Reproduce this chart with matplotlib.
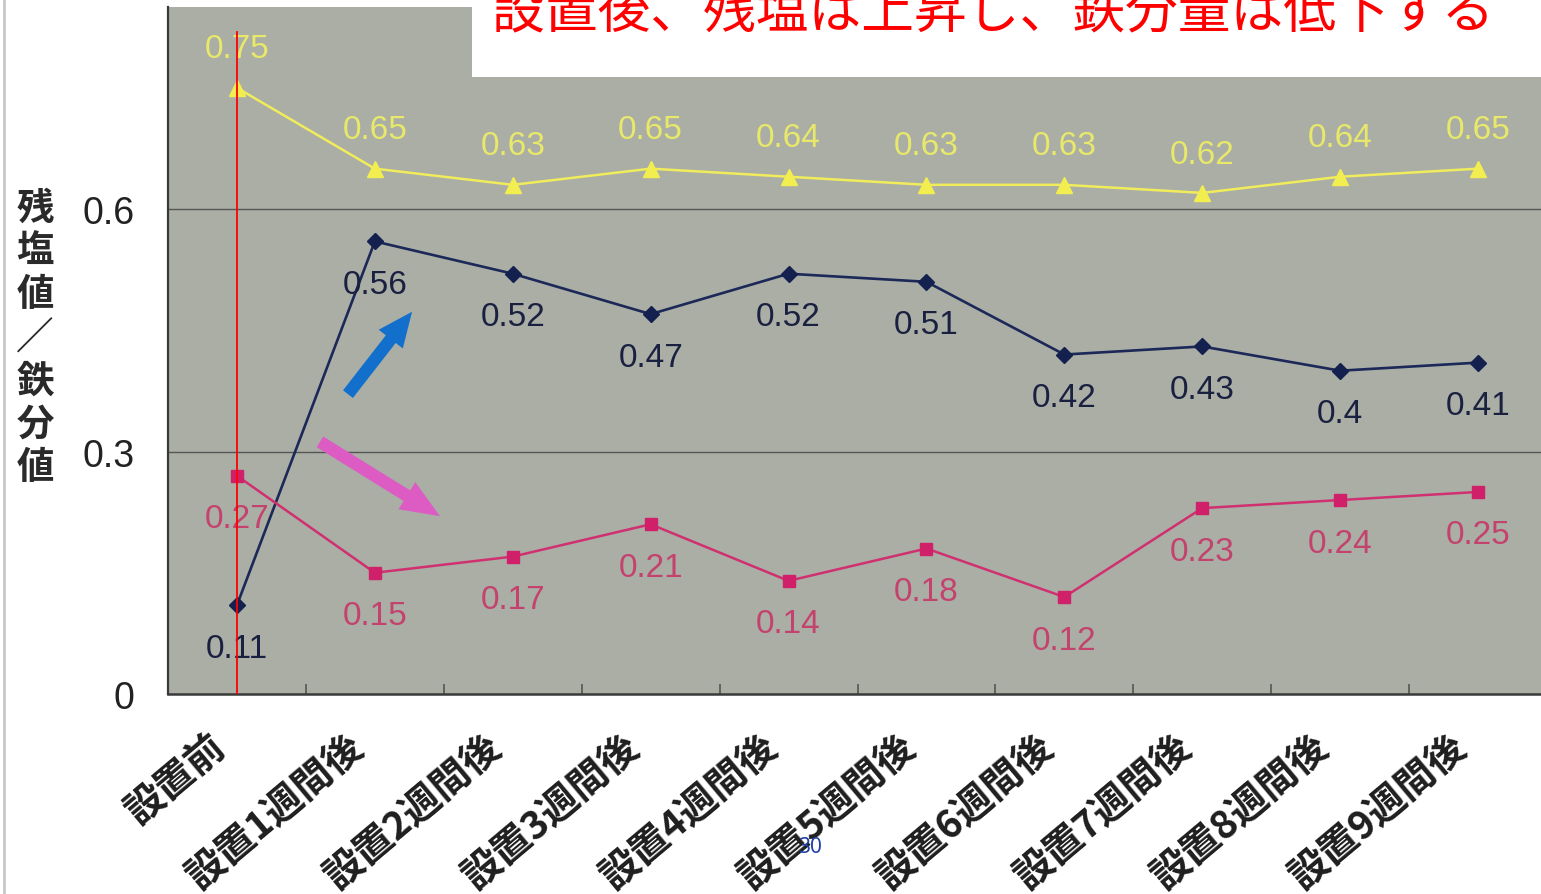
import matplotlib
matplotlib.use("Agg")
import matplotlib.pyplot as plt
from matplotlib.transforms import ScaledTranslation
from matplotlib.lines import Line2D
from matplotlib.patches import Rectangle

plt.rcParams['font.family'] = ['Liberation Sans', 'Noto Sans CJK JP', 'DejaVu Sans']

categories = ['設置前', '設置1週間後', '設置2週間後', '設置3週間後', '設置4週間後',
              '設置5週間後', '設置6週間後', '設置7週間後', '設置8週間後', '設置9週間後']
yellow_vals = [0.75, 0.65, 0.63, 0.65, 0.64, 0.63, 0.63, 0.62, 0.64, 0.65]
navy_vals = [0.11, 0.56, 0.52, 0.47, 0.52, 0.51, 0.42, 0.43, 0.40, 0.41]
pink_vals = [0.27, 0.15, 0.17, 0.21, 0.14, 0.18, 0.12, 0.23, 0.24, 0.25]
y_ticks = [0, 0.3, 0.6]
y_label = '残塩値／鉄分値'
title = '設置後、残塩は上昇し、鉄分量は低下する'

W, H = 1541, 895
fig = plt.figure(figsize=(W / 100, H / 100), dpi=100)
fig.patch.set_facecolor('white')

ax = fig.add_axes([168 / W, (H - 695) / H, 1379 / W, 687 / H])
ax.set_facecolor('#aaaea5')
ax.set_xlim(-0.5, 9.5)
ax.set_ylim(0, 0.85)
for s in ['top', 'right']:
    ax.spines[s].set_visible(False)
ax.spines['left'].set_color('#3a3a3a')
ax.spines['left'].set_linewidth(1.6)
ax.spines['bottom'].set_color('#3a3a3a')
ax.spines['bottom'].set_linewidth(1.8)

ax.set_yticks(y_ticks)
ax.set_yticklabels([f'{v:g}' for v in y_ticks], fontsize=27, color='#222222')
ax.tick_params(axis='y', length=0, pad=24)
for v in y_ticks[1:]:
    ax.axhline(v, color='#555555', lw=1.0, zorder=1)

# tick marks sit between the categories
x = list(range(len(categories)))
ax.set_xticks([i + 0.5 for i in x[:-1]])
ax.set_xticklabels([])
ax.tick_params(axis='x', direction='in', length=7, width=1.2, color='#555555')

for i, lab in enumerate(categories):
    off = ScaledTranslation(-0.16, -0.47, fig.dpi_scale_trans)
    ax.text(i, 0, lab, transform=ax.get_xaxis_transform() + off,
            rotation=40, rotation_mode='anchor', ha='right', va='center',
            fontsize=28, color='#1e1e1e', fontweight='bold',
            family=['Noto Sans CJK JP'], clip_on=False)

ax.plot(x, yellow_vals, color='#f0ec5c', lw=1.8, marker='^', ms=11,
        mfc='#f2ee50', mec='#f2ee50', zorder=3)
ax.plot(x, navy_vals, color='#1b2858', lw=1.9, marker='D', ms=8.5,
        mfc='#14204e', mec='#14204e', zorder=3)
ax.plot(x, pink_vals, color='#d03070', lw=1.8, marker='s', ms=9,
        mfc='#d0206a', mec='#d0206a', zorder=3)

for i, v in enumerate(yellow_vals):
    ax.annotate(f'{v:g}', (i, v), xytext=(0, 28), textcoords='offset points',
                ha='center', va='center', fontsize=24, color='#e8e86a')
for i, v in enumerate(navy_vals):
    ax.annotate(f'{v:g}', (i, v), xytext=(0, -31), textcoords='offset points',
                ha='center', va='center', fontsize=24, color='#1a2040')
for i, v in enumerate(pink_vals):
    ax.annotate(f'{v:g}', (i, v), xytext=(0, -31), textcoords='offset points',
                ha='center', va='center', fontsize=24, color='#c4426e')

# red marker line through the first category
ax.axvline(0, ymin=0, ymax=0.819 / 0.85, color='#ff0000', lw=1.3, zorder=4)

# trend arrows
ax.annotate('', xy=(1.27, 0.473), xytext=(0.805, 0.371),
            arrowprops=dict(arrowstyle='simple,head_width=1.1,head_length=1.25,tail_width=0.45',
                            color='#1270cc', lw=0, shrinkA=0, shrinkB=0,
                            mutation_scale=20), zorder=5)
ax.annotate('', xy=(1.472, 0.220), xytext=(0.602, 0.312),
            arrowprops=dict(arrowstyle='simple,head_width=1.15,head_length=1.4,tail_width=0.45',
                            color='#dc5cc4', lw=0, shrinkA=0, shrinkB=0,
                            mutation_scale=20), zorder=5)

# stacked vertical axis label
for k, ch in enumerate(y_label):
    fig.text(35 / W, 1 - (208 + k * 43.3) / H, ch, ha='center', va='center',
             fontsize=27, color='#2a2a2a', fontweight='bold',
             family=['Noto Sans CJK JP'])

# heading box, the heading runs past the top edge
fig.patches.append(Rectangle((472 / W, 1 - 78 / H), 1 - 472 / W, 78 / H,
                             transform=fig.transFigure, facecolor='white',
                             edgecolor='none', zorder=10))
fig.text(492 / W, 1 - 27 / H, title, ha='left', va='baseline', fontsize=38,
         color='#ff0000', family=['Noto Sans CJK JP'], zorder=11)

# page edge and page number
fig.add_artist(Line2D([4 / W, 4 / W], [0, 1], color='#c8c8c8', lw=2))
fig.text(810 / W, 1 - 848 / H, '30', ha='center', va='center', fontsize=15,
         color='#2040a8', family=['Noto Sans'])

fig.savefig('out.png', dpi=100)
